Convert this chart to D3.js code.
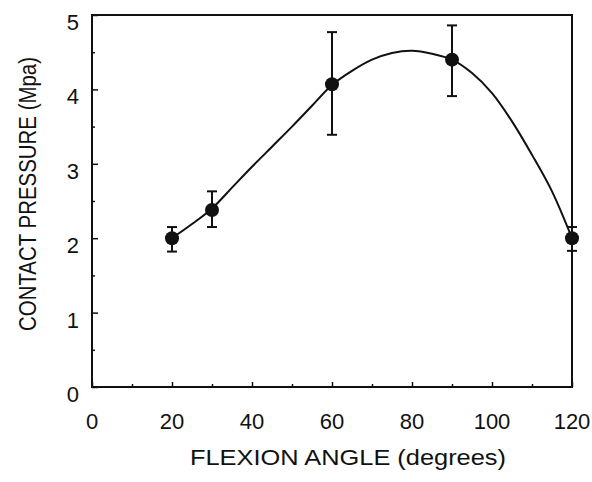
<!DOCTYPE html>
<html>
<head>
<meta charset="utf-8">
<script src="https://cdn.jsdelivr.net/npm/d3@7"></script>
<style>
  body { margin: 0; background: #fff; }
  text { font-family: "Liberation Sans", Arial, sans-serif; fill: #111; }
</style>
</head>
<body>
<svg id="chart"></svg>
<script>
// measured points (flexion angle, mean contact pressure, error bar ends)
const angles = [20, 30, 60, 90, 120];
const pressure = [2.0, 2.38, 4.07, 4.40, 2.0];
const errHigh = [2.15, 2.63, 4.77, 4.86, 2.15];
const errLow = [1.82, 2.15, 3.39, 3.91, 1.83];

// fitted curve
const fitAngles = [20, 25, 30, 35, 40, 45, 50, 55, 60, 65, 70, 75, 80, 85, 90, 95, 100, 105, 110, 115, 120];
const fitPressure = [2.0, 2.19, 2.4, 2.68, 2.96, 3.23, 3.5, 3.78, 4.06, 4.25, 4.40, 4.49, 4.52, 4.48, 4.40, 4.22, 3.95, 3.57, 3.12, 2.63, 2.0];

const xTicks = [0, 20, 40, 60, 80, 100, 120];
const yTicks = [0, 1, 2, 3, 4, 5];

const width = 592, height = 482;
const margin = { top: 15, right: 20, bottom: 95, left: 92 };

const svg = d3.select("#chart").attr("width", width).attr("height", height);

const x = d3.scaleLinear().domain([0, 120]).range([margin.left, width - margin.right]);
const y = d3.scaleLinear().domain([0, 5]).range([height - margin.bottom, margin.top]);

// frame
svg.append("rect")
  .attr("x", x(0)).attr("y", y(5))
  .attr("width", x(120) - x(0)).attr("height", y(0) - y(5))
  .attr("fill", "none").attr("stroke", "#111").attr("stroke-width", 2);

// inward ticks
const xAxis = svg.append("g").attr("transform", "translate(0," + y(0) + ")");
xAxis.call(d3.axisTop(x).tickValues(d3.range(0, 121, 10)).tickSize(4).tickFormat(""))
  .call(g => g.select(".domain").remove());
xAxis.selectAll(".tick line").attr("stroke", "#111").attr("stroke-width", 1.5)
  .attr("y2", d => d % 20 === 0 ? -5 : -3);
xAxis.selectAll(".tick text").remove();

const yAxis = svg.append("g").attr("transform", "translate(" + x(0) + ",0)");
yAxis.call(d3.axisRight(y).tickValues(d3.range(0, 5.01, 0.5)).tickSize(4).tickFormat(""))
  .call(g => g.select(".domain").remove());
yAxis.selectAll(".tick line").attr("stroke", "#111").attr("stroke-width", 1.5)
  .attr("x2", d => d % 1 === 0 ? 6 : 3);
yAxis.selectAll(".tick text").remove();

// tick labels
svg.append("g").selectAll("text")
  .data(xTicks)
  .join("text")
  .attr("x", d => x(d))
  .attr("y", y(0) + 42)
  .attr("text-anchor", "middle")
  .attr("font-size", 22)
  .text(d => d);

svg.append("g").selectAll("text")
  .data(yTicks)
  .join("text")
  .attr("x", x(0) - 13)
  .attr("y", d => y(d) + 15)
  .attr("text-anchor", "end")
  .attr("font-size", 22)
  .text(d => d);

// axis titles
svg.append("text")
  .attr("x", 348)
  .attr("y", 465)
  .attr("text-anchor", "middle")
  .attr("font-size", 22)
  .attr("textLength", 316)
  .attr("lengthAdjust", "spacingAndGlyphs")
  .text("FLEXION ANGLE (degrees)");

svg.append("text")
  .attr("transform", "translate(36,194) rotate(-90)")
  .attr("text-anchor", "middle")
  .attr("font-size", 23)
  .attr("textLength", 274)
  .attr("lengthAdjust", "spacingAndGlyphs")
  .text("CONTACT PRESSURE (Mpa)");

// fitted curve
const line = d3.line()
  .x((d, i) => x(fitAngles[i]))
  .y(d => y(d))
  .curve(d3.curveCatmullRom);

svg.append("path")
  .datum(fitPressure)
  .attr("d", line)
  .attr("fill", "none")
  .attr("stroke", "#111")
  .attr("stroke-width", 2);

// error bars
const err = svg.append("g").attr("stroke", "#111").attr("stroke-width", 2);
angles.forEach((a, i) => {
  err.append("line")
    .attr("x1", x(a)).attr("x2", x(a))
    .attr("y1", y(errLow[i])).attr("y2", y(errHigh[i]));
  [errLow[i], errHigh[i]].forEach(v => {
    err.append("line")
      .attr("x1", x(a) - 5).attr("x2", x(a) + 5)
      .attr("y1", y(v)).attr("y2", y(v));
  });
});

// points
svg.append("g").selectAll("circle")
  .data(pressure)
  .join("circle")
  .attr("cx", (d, i) => x(angles[i]))
  .attr("cy", d => y(d))
  .attr("r", 7)
  .attr("fill", "#111");
</script>
</body>
</html>
